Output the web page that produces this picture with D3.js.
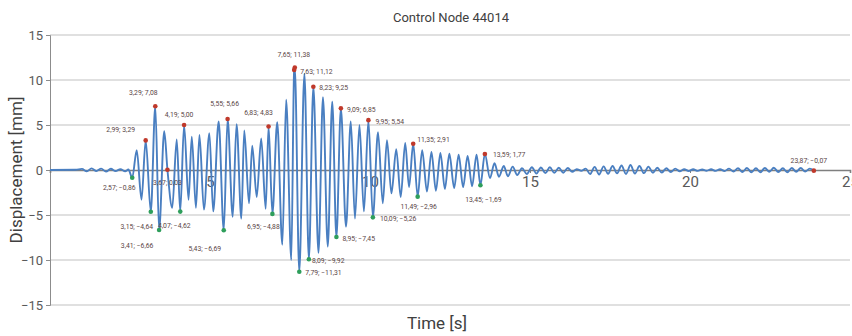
<!DOCTYPE html>
<html>
<head>
<meta charset="utf-8">
<script src="https://cdn.jsdelivr.net/npm/d3@7"></script>
<style>
  body { margin: 0; background: #ffffff; }
  svg { display: block; font-family: Roboto, "Open Sans", sans-serif; }
</style>
</head>
<body>
<svg id="chart" width="852" height="336"></svg>
<script>
// Displacement history of control node 44014: successive turning points of the response
const timeSec = [
  0.00, 0.80, 1.00, 1.15, 1.30, 1.45, 1.60, 1.75, 1.90, 2.05, 2.20, 2.35, 2.45,
  2.57, 2.71, 2.86, 2.99, 3.15, 3.29, 3.41, 3.57, 3.67, 3.82, 3.96, 4.07, 4.19,
  4.33, 4.43, 4.56, 4.67, 4.81, 4.98, 5.10, 5.27, 5.43, 5.55, 5.71, 5.83, 5.98,
  6.07, 6.22, 6.32, 6.46, 6.60, 6.74, 6.83, 6.95, 7.10, 7.26, 7.38, 7.54, 7.63, 7.65,
  7.79, 7.95, 8.09, 8.23, 8.39, 8.53, 8.68, 8.82, 8.95, 9.09, 9.25, 9.40, 9.53,
  9.67, 9.81, 9.95, 10.09, 10.25, 10.40, 10.53, 10.67, 10.82, 10.96, 11.10, 11.22,
  11.35, 11.49, 11.63, 11.78, 11.92, 12.06, 12.20, 12.34, 12.48, 12.63, 12.77,
  12.91, 13.05, 13.19, 13.33, 13.45, 13.59, 13.75, 13.89, 14.03, 14.18, 14.31,
  14.46, 14.60, 14.75, 14.90, 15.06, 15.20, 15.34, 15.48, 15.62, 15.76, 15.90,
  16.04, 16.18, 16.32, 16.46, 16.60, 16.74, 16.88, 17.02, 17.16, 17.30, 17.44,
  17.58, 17.72, 17.86, 18.00, 18.14, 18.28, 18.42, 18.56, 18.70, 18.84, 18.98,
  19.12, 19.26, 19.40, 19.54, 19.68, 19.82, 19.96, 20.10, 20.24, 20.38, 20.52,
  20.66, 20.80, 20.94, 21.08, 21.22, 21.36, 21.50, 21.64, 21.78, 21.92, 22.06,
  22.20, 22.34, 22.48, 22.62, 22.76, 22.90, 23.04, 23.18, 23.32, 23.46, 23.60,
  23.74, 23.87
];
const dispMm = [
  0.00, 0.02, 0.12, -0.15, 0.18, -0.12, 0.15, -0.18, 0.14, -0.12, 0.10, -0.15, 0.05,
  -0.86, 2.20, -3.30, 3.29, -4.64, 7.08, -6.66, 4.30, 0.03, -4.20, 3.40, -4.62, 5.00,
  -3.30, 3.70, -4.20, 3.90, -4.40, 4.10, -4.60, 5.40, -6.69, 5.66, -5.20, 5.10, -5.40,
  4.40, -3.70, 2.70, -3.00, 3.50, -4.30, 4.83, -4.88, 5.30, -8.30, 7.80, -10.00, 11.12, 11.38,
  -11.31, 10.70, -9.92, 9.25, -9.20, 8.10, -8.50, 7.60, -7.45, 6.85, -6.30, 5.40, -5.40,
  5.00, -4.60, 5.54, -5.26, 4.20, -3.70, 3.30, -2.60, 2.30, -3.00, 3.00, -1.90,
  2.91, -2.96, 2.20, -2.40, 2.00, -2.30, 1.90, -2.10, 1.80, -2.00, 1.70,
  -1.90, 1.55, -1.80, 1.70, -1.69, 1.77, -0.90, 0.75, -0.75, 0.45, -0.70,
  0.37, -0.55, 0.20, -0.45, 0.30, -0.40, 0.28, -0.35, 0.30, -0.32, 0.25,
  -0.30, 0.22, -0.20, 0.10, -0.08, 0.15, -0.45, 0.35, -0.50, 0.40, -0.42,
  0.45, -0.38, 0.50, -0.45, 0.55, -0.40, 0.45, -0.35, 0.38, -0.30, 0.25,
  -0.28, 0.20, -0.22, 0.15, -0.15, 0.10, -0.12, 0.08, -0.10, 0.06, -0.08,
  0.08, -0.10, 0.10, -0.12, 0.15, -0.18, 0.20, -0.22, 0.22, -0.25, 0.20,
  -0.25, 0.22, -0.20, 0.25, -0.22, 0.20, -0.25, 0.22, -0.20, 0.22, -0.18,
  0.15, -0.07
];

// Annotated samples (time, displacement, peak type)
const peakTime  = [2.57, 2.99, 3.29, 3.15, 3.41, 3.67, 4.07, 4.19, 5.43, 5.55, 6.83, 6.95, 7.65,
                   7.79, 7.63, 8.09, 8.23, 8.95, 9.09, 9.95, 10.09, 11.35, 11.49, 13.45, 13.59, 23.87];
const peakValue = [-0.86, 3.29, 7.08, -4.64, -6.66, 0.03, -4.62, 5.00, -6.69, 5.66, 4.83, -4.88, 11.38,
                   -11.31, 11.12, -9.92, 9.25, -7.45, 6.85, 5.54, -5.26, 2.91, -2.96, -1.69, 1.77, -0.07];
const peakType  = ["min", "max", "max", "min", "min", "max", "min", "max", "min", "max", "max", "min", "max",
                   "min", "max", "min", "max", "min", "max", "max", "min", "max", "min", "min", "max", "max"];

const xTicks = [5, 10, 15, 20, 25];
const yTicks = [-15, -10, -5, 0, 5, 10, 15];

// Label placement relative to each marker: [dx, dy, anchor]
const labelNudge = [[-13, 10, "middle"], [-25, -10, "middle"], [-12, -13, "middle"], [-14, 15, "middle"],
                    [-22, 16, "middle"], [0, 13, "middle"], [-6, 15, "middle"], [-5, -10, "middle"],
                    [-19, 19, "middle"], [-3, -15, "middle"], [-10, -13, "middle"], [-9, 13, "middle"],
                    [-1, -12, "middle"], [6, 1, "start"], [6, 2, "start"], [3, 1.5, "start"],
                    [6, 1, "start"], [6, 2, "start"], [6, 2, "start"], [7, 2, "start"],
                    [7, 2, "start"], [4, -4, "start"], [1, 11, "middle"], [3, 15, "middle"],
                    [8, 1, "start"], [-5, -9, "middle"]];

const svg = d3.select("#chart");
const x = d3.scaleLinear().domain([0, 25]).range([50, 850]);
const y = d3.scaleLinear().domain([-15, 15]).range([305, 35]);

// Title
svg.append("text")
  .attr("x", 451).attr("y", 22)
  .attr("text-anchor", "middle")
  .attr("font-size", 13)
  .attr("fill", "#404040")
  .text("Control Node 44014");

// Horizontal gridlines
svg.append("g")
  .selectAll("line")
  .data(yTicks.filter(d => d !== 0))
  .join("line")
  .attr("x1", 50).attr("x2", 850)
  .attr("y1", d => y(d)).attr("y2", d => y(d))
  .attr("stroke", "#d6d6d6").attr("stroke-width", 1.3);

// Y axis
const yAxis = svg.append("g")
  .attr("transform", "translate(50,0)")
  .call(d3.axisLeft(y).tickValues(yTicks).tickSize(4).tickPadding(3).tickFormat(d3.format("d")));
yAxis.select(".domain").attr("stroke", "#8c8c8c");
yAxis.selectAll(".tick line").attr("stroke", "#8c8c8c");
yAxis.selectAll("text").attr("font-size", 13).attr("fill", "#595959").attr("font-family", "Roboto, sans-serif");

// X axis along zero displacement
const xAxis = svg.append("g")
  .attr("transform", `translate(0,${y(0)})`)
  .call(d3.axisBottom(x).tickValues(xTicks).tickSize(3).tickPadding(3).tickFormat(d3.format("d")));
xAxis.select(".domain").attr("stroke", "#7f7f7f").attr("stroke-width", 1.6);
xAxis.selectAll(".tick line").attr("stroke", "#7f7f7f");
xAxis.selectAll("text").attr("font-size", 15).attr("fill", "#595959").attr("font-family", "Roboto, sans-serif");

// Displacement trace
const line = d3.line()
  .x((d, i) => x(timeSec[i]))
  .y(d => y(d))
  .curve(d3.curveMonotoneX);
svg.append("path")
  .datum(dispMm)
  .attr("d", line)
  .attr("fill", "none")
  .attr("stroke", "#4a7fc1")
  .attr("stroke-width", 1.9)
  .attr("stroke-linejoin", "round");

// Peak markers and labels
const fmt = d3.format(".2f");
const peaks = peakTime.map((t, i) => ({ t, v: peakValue[i], type: peakType[i], nudge: labelNudge[i] }));
svg.append("g")
  .selectAll("circle")
  .data(peaks)
  .join("circle")
  .attr("cx", d => x(d.t)).attr("cy", d => y(d.v))
  .attr("r", 2.3)
  .attr("fill", d => d.type === "max" ? "#c0392b" : "#2e9e5b");

svg.append("g")
  .selectAll("text")
  .data(peaks)
  .join("text")
  .attr("x", d => x(d.t) + d.nudge[0])
  .attr("y", d => y(d.v) + d.nudge[1])
  .attr("text-anchor", d => d.nudge[2])
  .attr("dominant-baseline", "middle")
  .attr("font-size", 6.8)
  .attr("fill", "#5a4646")
  .text(d => `${fmt(d.t).replace(".", ",")}; ${fmt(d.v).replace(".", ",")}`);

// Axis titles
svg.append("text")
  .attr("transform", "translate(22,170) rotate(-90)")
  .attr("text-anchor", "middle")
  .attr("font-size", 17)
  .attr("fill", "#404040")
  .text("Displacement [mm]");
svg.append("text")
  .attr("x", 437).attr("y", 329)
  .attr("text-anchor", "middle")
  .attr("font-size", 17)
  .attr("fill", "#404040")
  .text("Time [s]");
</script>
</body>
</html>
